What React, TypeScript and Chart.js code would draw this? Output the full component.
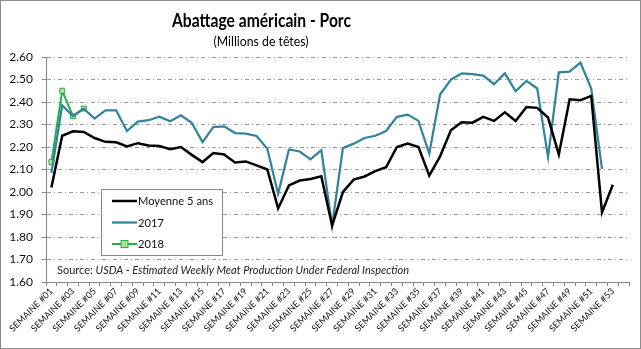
import { useEffect, useRef } from "react";
import { Chart, registerables } from "chart.js";

Chart.register(...registerables);

const TITLE = "Abattage américain - Porc";
const SUBTITLE = "(Millions de têtes)";
const SOURCE_PLAIN = "Source: ";
const SOURCE_ITALIC = "USDA - Estimated Weekly Meat Production Under Federal Inspection";

const weeks: string[] = Array.from({ length: 54 }, (_, i) => `SEMAINE #${String(i + 1).padStart(2, "0")}`);

const avg5: number[] = [
  2.02, 2.25, 2.27, 2.267, 2.24, 2.223, 2.221, 2.203, 2.217, 2.207,
  2.204, 2.19, 2.2, 2.165, 2.133, 2.173, 2.167, 2.131, 2.136, 2.118,
  2.1, 1.927, 2.029, 2.051, 2.058, 2.07, 1.85, 2.0, 2.055, 2.069,
  2.093, 2.11, 2.2, 2.215, 2.2, 2.073, 2.158, 2.274, 2.31, 2.308,
  2.334, 2.316, 2.354, 2.316, 2.378, 2.374, 2.331, 2.167, 2.412, 2.408,
  2.427, 1.909, 2.032,
];

const y2017: number[] = [
  2.085, 2.385, 2.338, 2.37, 2.326, 2.363, 2.363, 2.271, 2.313, 2.319,
  2.335, 2.314, 2.341, 2.308, 2.222, 2.288, 2.292, 2.262, 2.259, 2.249,
  2.192, 1.991, 2.189, 2.18, 2.145, 2.186, 1.85, 2.195, 2.215, 2.24,
  2.25, 2.271, 2.334, 2.344, 2.316, 2.17, 2.433, 2.5, 2.527, 2.524,
  2.517, 2.479, 2.527, 2.448, 2.494, 2.46, 2.155, 2.532, 2.535, 2.575,
  2.46, 2.103,
];

const y2018: number[] = [2.133, 2.45, 2.337, 2.371];

const seriesNames = ["Moyenne 5 ans", "2017", "2018"];
const yMin = 1.6;
const yMax = 2.6;
const yStep = 0.1;

const FONT = "Lato, 'Liberation Sans', sans-serif";
const AXIS_GRAY = "#868686";

// draw text at a given font size, squeezed horizontally so it spans the wanted width
function drawSqueezed(
  ctx: CanvasRenderingContext2D,
  text: string,
  style: string,
  size: number,
  x: number,
  y: number,
  width: number,
  align: "left" | "center"
) {
  ctx.save();
  ctx.font = `${style} ${size}px ${FONT}`;
  const w = ctx.measureText(text).width;
  const sx = Math.min(1, width / w);
  ctx.translate(x, y);
  ctx.scale(sx, 1);
  ctx.textAlign = align;
  ctx.fillText(text, 0, 0);
  ctx.restore();
  return w * sx;
}

const decorPlugin = {
  id: "decor",
  beforeDraw(chart: any) {
    const ctx = chart.ctx;
    ctx.save();
    ctx.fillStyle = "#ffffff";
    ctx.fillRect(0, 0, chart.width, chart.height);
    ctx.restore();
  },
  afterDraw(chart: any) {
    const ctx = chart.ctx as CanvasRenderingContext2D;
    ctx.save();
    // outer border
    ctx.strokeStyle = "#8c8c8c";
    ctx.lineWidth = 1;
    ctx.strokeRect(0.5, 0.5, chart.width - 1, chart.height - 1);

    // titles
    ctx.fillStyle = "#000";
    ctx.textBaseline = "alphabetic";
    drawSqueezed(ctx, TITLE, "bold", 18, 261.5, 27, 179, "center");
    drawSqueezed(ctx, SUBTITLE, "normal", 14, 261, 46, 95, "center");

    // source
    ctx.fillStyle = "#222";
    const sx = 57;
    const sy = 274;
    ctx.font = `11px ${FONT}`;
    const plainW = ctx.measureText(SOURCE_PLAIN).width;
    ctx.font = `italic 11px ${FONT}`;
    const italW = ctx.measureText(SOURCE_ITALIC).width;
    const k = Math.min(1, 357 / (plainW + italW));
    drawSqueezed(ctx, SOURCE_PLAIN, "normal", 11, sx, sy, plainW * k, "left");
    drawSqueezed(ctx, SOURCE_ITALIC, "italic", 11, sx + plainW * k, sy, italW * k, "left");

    // legend
    const lx = 101.5, ly = 189.5, lw = 121, lh = 66;
    ctx.fillStyle = "#fff";
    ctx.fillRect(lx, ly, lw, lh);
    ctx.strokeStyle = AXIS_GRAY;
    ctx.lineWidth = 1;
    ctx.strokeRect(lx, ly, lw, lh);
    const rows = [201, 222.5, 244];
    ctx.font = `11.5px ${FONT}`;
    const legendK = Math.min(1, 75 / ctx.measureText(seriesNames[0]).width);
    chart.data.datasets.forEach((ds: any, i: number) => {
      const y = rows[i];
      ctx.strokeStyle = ds.borderColor;
      ctx.lineWidth = ds.borderWidth;
      ctx.beginPath();
      ctx.moveTo(112, y);
      ctx.lineTo(137, y);
      ctx.stroke();
      if (ds.pointRadius > 0) {
        ctx.fillStyle = ds.pointBackgroundColor;
        ctx.strokeStyle = ds.pointBorderColor;
        ctx.lineWidth = 1;
        const r = ds.pointRadius;
        ctx.fillRect(124.5 - r, y - r, 2 * r, 2 * r);
        ctx.strokeRect(124.5 - r, y - r, 2 * r, 2 * r);
      }
      ctx.fillStyle = "#111";
      ctx.textBaseline = "middle";
      ctx.font = `11.5px ${FONT}`;
      const tw = ctx.measureText(ds.label).width;
      drawSqueezed(ctx, ds.label, "normal", 11.5, 138, y + 0.5, tw * legendK, "left");
    });
    ctx.restore();
  },
};

export default function App() {
  const ref = useRef<HTMLCanvasElement | null>(null);

  useEffect(() => {
    document.body.style.margin = "0";
    const canvas = ref.current;
    if (!canvas) return;
    const chart = new Chart(canvas, {
      type: "line",
      data: {
        labels: weeks,
        datasets: [
          {
            label: seriesNames[0],
            data: avg5,
            borderColor: "#000000",
            backgroundColor: "#000000",
            borderWidth: 2.5,
            pointRadius: 0,
            tension: 0,
          },
          {
            label: seriesNames[1],
            data: y2017,
            borderColor: "#31849B",
            backgroundColor: "#31849B",
            borderWidth: 2.25,
            pointRadius: 0,
            tension: 0,
          },
          {
            label: seriesNames[2],
            data: y2018,
            borderColor: "#22B14C",
            backgroundColor: "#22B14C",
            borderWidth: 2,
            pointRadius: 3.5,
            pointStyle: "rect",
            pointBackgroundColor: "#B9E08F",
            pointBorderColor: "#22B14C",
            pointBorderWidth: 1,
            tension: 0,
          },
        ],
      },
      options: {
        responsive: false,
        animation: false,
        devicePixelRatio: 1,
        layout: { padding: { left: 0, right: 12, top: 57, bottom: 0 } },
        plugins: {
          legend: { display: false },
          title: { display: false },
          tooltip: { enabled: false },
        },
        scales: {
          x: {
            type: "category",
            offset: true,
            grid: {
              display: true,
              drawOnChartArea: false,
              drawTicks: true,
              tickLength: 4,
              offset: true,
              color: AXIS_GRAY,
            },
            border: { display: true, color: AXIS_GRAY, width: 1 },
            ticks: {
              autoSkip: false,
              maxRotation: 45,
              minRotation: 45,
              padding: 0,
              color: "#111",
              font: { family: FONT, size: 9 },
              callback: (_v: any, i: number) => (i % 2 === 0 ? weeks[i] : ""),
            },
            afterFit: (scale: any) => {
              scale.height = 67;
            },
          },
          y: {
            min: yMin,
            max: yMax,
            grid: {
              color: "#9a9a9a",
              lineWidth: 1,
              tickLength: 4,
              tickColor: AXIS_GRAY,
              tickBorderDash: [],
            },
            border: { display: true, color: AXIS_GRAY, width: 1, dash: [4, 3, 1, 3] },
            ticks: {
              stepSize: yStep,
              padding: 9,
              color: "#111",
              font: { family: FONT, size: 12 },
              callback: (v: any) => Number(v).toFixed(2),
            },
            afterFit: (scale: any) => {
              scale.width = 46;
            },
          },
        },
      },
      plugins: [decorPlugin],
    });
    return () => chart.destroy();
  }, []);

  return <canvas ref={ref} width={641} height={349} style={{ display: "block" }} />;
}
